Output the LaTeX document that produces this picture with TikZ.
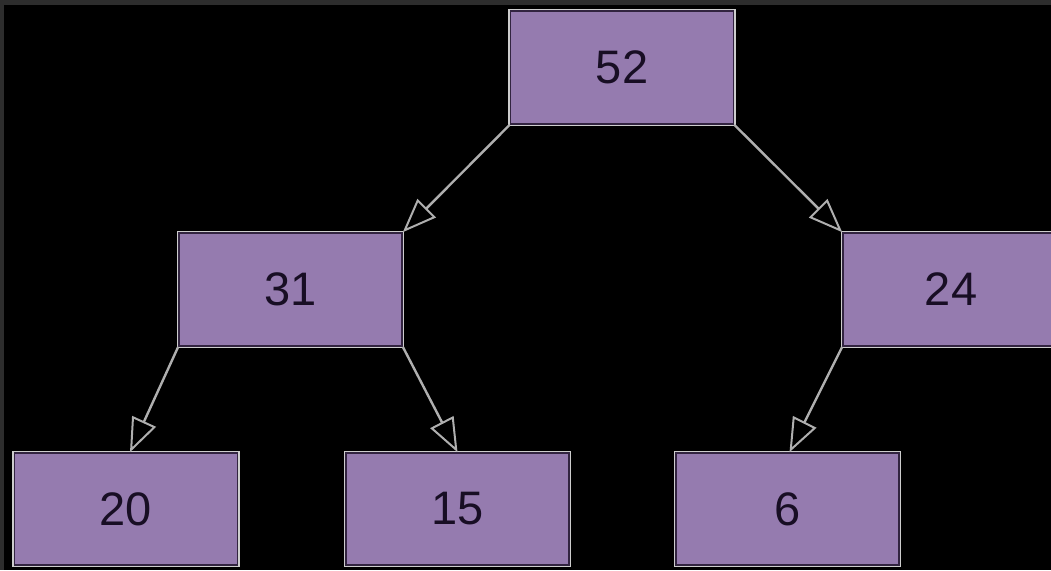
\documentclass[tikz,border=0pt]{standalone}
\usepackage{fontspec}
\setmainfont{Liberation Sans}
\usetikzlibrary{arrows.meta}
\definecolor{boxfill}{RGB}{149,123,175}
\definecolor{boxedge}{RGB}{50,36,64}
\definecolor{rim}{RGB}{205,205,205}
\definecolor{frame}{RGB}{45,45,45}
\definecolor{txt}{RGB}{24,14,36}
\definecolor{wire}{RGB}{175,175,175}
\tikzset{
  heapbox/.style={rectangle, fill=boxfill, draw=boxedge, line width=1.6pt,
    preaction={draw=rim, line width=4.5pt},
    minimum width=223pt, minimum height=113pt, inner sep=0pt,
    font=\fontsize{47}{50}\selectfont, text=txt},
  link/.style={draw=wire, line width=2.4pt,
    -{Triangle[length=34pt,width=26pt,fill=black,line width=2pt]}}
}
\begin{document}
\begin{tikzpicture}[x=1pt,y=-1pt]
\useasboundingbox (0,0) rectangle (1051,570);
\clip (0,0) rectangle (1051,570);
\fill[black] (0,0) rectangle (1051,570);
\fill[frame] (0,0) rectangle (1051,5);
\fill[frame] (0,0) rectangle (4,570);
\node[heapbox] (n52) at (622,67.5) {52};
\node[heapbox] (n31) at (290.5,289.5) {31};
\node[heapbox,minimum width=216pt] (n24) at (951,289.5) {24};
\node[heapbox,minimum height=112pt] (n20) at (126,509) {20};
\node[heapbox,minimum height=112pt] (n15) at (457.5,509) {15};
\node[heapbox,minimum height=112pt] (n6) at (787.5,509) {6};
\draw[link] (n52.south west) -- (n31.north east);
\draw[link] (n52.south east) -- (n24.north west);
\draw[link] (n31.south west) -- ([xshift=4pt]n20.north);
\draw[link] (n31.south east) -- (n15.north);
\draw[link] (n24.south west) -- ([xshift=2pt]n6.north);
\end{tikzpicture}
\end{document}
